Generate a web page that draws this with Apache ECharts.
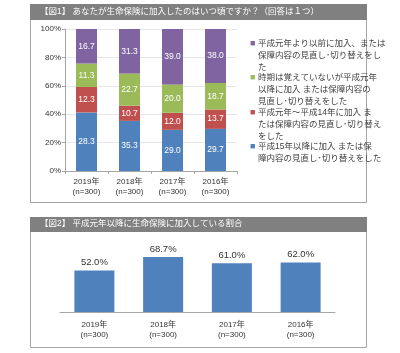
<!DOCTYPE html>
<html>
<head>
<meta charset="utf-8">
<script src="https://cdn.jsdelivr.net/npm/echarts@6/dist/echarts.min.js"></script>
<style>
  html, body { margin: 0; padding: 0; background: #fff; }
  #chart { width: 400px; height: 353px; }
</style>
</head>
<body>
<div id="chart"></div>
<script>
const years = ['2019年\n(n=300)', '2018年\n(n=300)', '2017年\n(n=300)', '2016年\n(n=300)']

// 図1 raw answer shares (%), bottom to top
const after15 = [28.3, 35.3, 29.0, 29.7]
const h1to14 = [12.3, 10.7, 12.0, 13.7]
const unknownAfter = [11.3, 22.7, 20.0, 18.7]
const beforeH1 = [16.7, 31.3, 39.0, 38.0]

// 図2
const afterH1Rate = [52.0, 68.7, 61.0, 62.0]

const yTicks = [0, 20, 40, 60, 80, 100]

const title1 = '【図1】 あなたが生命保険に加入したのはいつ頃ですか？（回答は１つ）'
const title2 = '【図2】 平成元年以降に生命保険に加入している割合'

// legend text, as wrapped in the source
const legendLines = {
  beforeH1: ['平成元年より以前に加入、または', '保障内容の見直し･切り替えをし', 'た'],
  unknownAfter: ['時期は覚えていないが平成元年', '以降に加入 または保障内容の', '見直し･切り替えをした'],
  h1to14: ['平成元年～平成14年に加入 ま', 'たは保障内容の見直し･切り替え', 'をした'],
  after15: ['平成15年以降に加入 または保', '障内容の見直し･切り替えをした']
}

const COLORS = { after15: '#4F81BD', h1to14: '#C0504D', unknownAfter: '#9BBB59', beforeH1: '#8064A2' }
const FONT = '"Liberation Sans", "Noto Sans CJK JP", sans-serif'

const raw = { after15, h1to14, unknownAfter, beforeH1 }
const order = ['after15', 'h1to14', 'unknownAfter', 'beforeH1']
// 図1 is drawn as a 100% stack, labels keep the raw answer share
const totals = years.map((_, i) => order.reduce((s, k) => s + raw[k][i], 0))

const nameOf = k => legendLines[k].join('')

const stackSeries = order.map(k => ({
  name: nameOf(k),
  type: 'bar',
  stack: 'all',
  xAxisIndex: 0,
  yAxisIndex: 0,
  barWidth: 21,
  itemStyle: { color: COLORS[k] },
  data: raw[k].map((v, i) => ({ value: v / totals[i] * 100, raw: v })),
  label: {
    show: true,
    position: 'inside',
    color: '#fff',
    fontSize: 8.5,
    fontFamily: FONT,
    formatter: p => p.data.raw.toFixed(1)
  }
}))

const legendRich = { t: { fontSize: 8.5, lineHeight: 12, color: '#404040', fontFamily: FONT }, pad: { width: 8 } }
order.forEach(k => {
  legendRich['sq_' + k] = { color: COLORS[k], fontSize: 9, width: 8, lineHeight: 12 }
})

const headerText = { color: '#fff', fontSize: 8.5, fontWeight: 'normal', fontFamily: FONT }

const chart = echarts.init(document.getElementById('chart'))
chart.setOption({
  animation: false,
  backgroundColor: '#fff',
  textStyle: { fontFamily: FONT },
  graphic: [
    { type: 'rect', shape: { x: 30.5, y: 4.5, width: 336, height: 198 }, style: { fill: 'none', stroke: '#a6a6a6', lineWidth: 1 }, z: 0 },
    { type: 'rect', shape: { x: 30, y: 4, width: 337, height: 16 }, style: { fill: '#808080' }, z: 1 },
    { type: 'rect', shape: { x: 30.5, y: 217.5, width: 336, height: 130 }, style: { fill: 'none', stroke: '#a6a6a6', lineWidth: 1 }, z: 0 },
    { type: 'rect', shape: { x: 30, y: 217, width: 337, height: 15 }, style: { fill: '#808080' }, z: 1 }
  ],
  title: [
    { text: title1, left: 40, top: 7, padding: 0, textStyle: headerText },
    { text: title2, left: 40, top: 219.5, padding: 0, textStyle: headerText }
  ],
  legend: {
    orient: 'vertical',
    left: 245,
    top: 39,
    padding: 0,
    itemGap: 0,
    itemWidth: 0,
    itemHeight: 0,
    icon: 'none',
    selectedMode: false,
    data: ['beforeH1', 'unknownAfter', 'h1to14', 'after15'].map(nameOf),
    formatter: name => {
      const k = order.find(o => nameOf(o) === name)
      return legendLines[k].map((line, i) => (i === 0 ? '{sq_' + k + '|■}' : '{pad|}') + '{t|' + line + '}').join('\n')
    },
    textStyle: { rich: legendRich }
  },
  grid: [
    { left: 65, top: 29, width: 172, height: 142 },
    { left: 60, top: 232, width: 275, height: 80 }
  ],
  xAxis: [
    {
      type: 'category',
      gridIndex: 0,
      data: years,
      axisLine: { lineStyle: { color: '#a6a6a6' } },
      axisTick: { show: true, length: 3, lineStyle: { color: '#a6a6a6' } },
      axisLabel: { color: '#333', fontSize: 8, lineHeight: 10, margin: 6, fontFamily: FONT }
    },
    {
      type: 'category',
      gridIndex: 1,
      data: years,
      axisLine: { lineStyle: { color: '#a6a6a6' } },
      axisTick: { show: false },
      axisLabel: { color: '#333', fontSize: 8, lineHeight: 10, margin: 8, fontFamily: FONT }
    }
  ],
  yAxis: [
    {
      type: 'value',
      gridIndex: 0,
      min: yTicks[0],
      max: yTicks[yTicks.length - 1],
      interval: 20,
      axisLine: { show: true, lineStyle: { color: '#a6a6a6' } },
      axisTick: { show: true, length: 3, lineStyle: { color: '#a6a6a6' } },
      splitLine: { show: true, lineStyle: { color: '#e6e6e6' } },
      axisLabel: { color: '#333', fontSize: 8, margin: 4, formatter: '{value}%', fontFamily: FONT }
    },
    {
      type: 'value',
      gridIndex: 1,
      min: 0,
      max: 100,
      show: false,
      splitLine: { show: false }
    }
  ],
  series: [
    ...stackSeries,
    {
      name: '平成元年以降に生命保険に加入している割合',
      type: 'bar',
      xAxisIndex: 1,
      yAxisIndex: 1,
      barWidth: 40,
      itemStyle: { color: '#4F81BD' },
      data: afterH1Rate,
      label: {
        show: true,
        position: 'top',
        distance: 3,
        color: '#333',
        fontSize: 9.5,
        fontFamily: FONT,
        formatter: p => p.value.toFixed(1) + '%'
      }
    }
  ]
})
</script>
</body>
</html>
